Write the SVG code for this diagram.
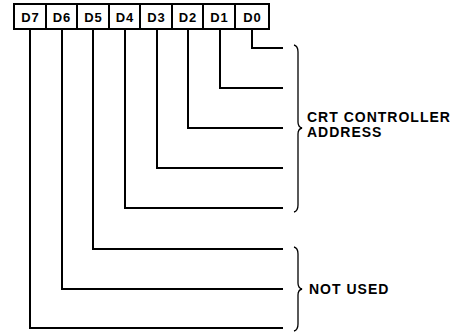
<svg xmlns="http://www.w3.org/2000/svg" width="465" height="332" viewBox="0 0 465 332">
<style>
.box{fill:#fff;stroke:#000;stroke-width:2}
.lbl{font-family:"Liberation Sans",Arial,sans-serif;font-weight:bold;font-size:13px;letter-spacing:1px;text-anchor:middle;fill:#000}
.txt{font-family:"Liberation Sans",Arial,sans-serif;font-weight:bold;font-size:14px;letter-spacing:1px;fill:#000}
.wire{fill:none;stroke:#000;stroke-width:2}
.brace{fill:none;stroke:#000;stroke-width:1.3}
</style>
<rect width="465" height="332" fill="#fff"/>
<g id="connectors">
<path class="wire" d="M252 29V48H283"/>
<path class="wire" d="M220 29V88H283"/>
<path class="wire" d="M188 29V128H283"/>
<path class="wire" d="M157 29V168H283"/>
<path class="wire" d="M125 29V208H283"/>
<path class="wire" d="M93 29V249H283"/>
<path class="wire" d="M62 29V289H283"/>
<path class="wire" d="M30 29V328H283"/>
</g>
<g id="D7"><rect class="box" x="14" y="4" width="32" height="25"/><text class="lbl" x="30.5" y="22">D7</text></g>
<g id="D6"><rect class="box" x="46" y="4" width="31" height="25"/><text class="lbl" x="62" y="22">D6</text></g>
<g id="D5"><rect class="box" x="77" y="4" width="32" height="25"/><text class="lbl" x="93.5" y="22">D5</text></g>
<g id="D4"><rect class="box" x="109" y="4" width="31" height="25"/><text class="lbl" x="125" y="22">D4</text></g>
<g id="D3"><rect class="box" x="140" y="4" width="32" height="25"/><text class="lbl" x="156.5" y="22">D3</text></g>
<g id="D2"><rect class="box" x="172" y="4" width="31" height="25"/><text class="lbl" x="188" y="22">D2</text></g>
<g id="D1"><rect class="box" x="203" y="4" width="32" height="25"/><text class="lbl" x="219.5" y="22">D1</text></g>
<g id="D0"><rect class="box" x="235" y="4" width="34" height="25"/><text class="lbl" x="252.5" y="22">D0</text></g>
<g id="crt-address">
<path class="brace" d="M294 45Q298 46 298 52L298 122Q298 127 302 128Q298 129 298 134L298 205Q298 211 294 212"/>
<text class="txt" x="307" y="122">CRT CONTROLLER</text>
<text class="txt" x="307" y="137">ADDRESS</text>
</g>
<g id="not-used">
<path class="brace" d="M294 247Q298 248 298 254L298 283Q298 288 302 289Q298 290 298 295L298 324Q298 330 294 331"/>
<text class="txt" x="309" y="294">NOT USED</text>
</g>
</svg>
